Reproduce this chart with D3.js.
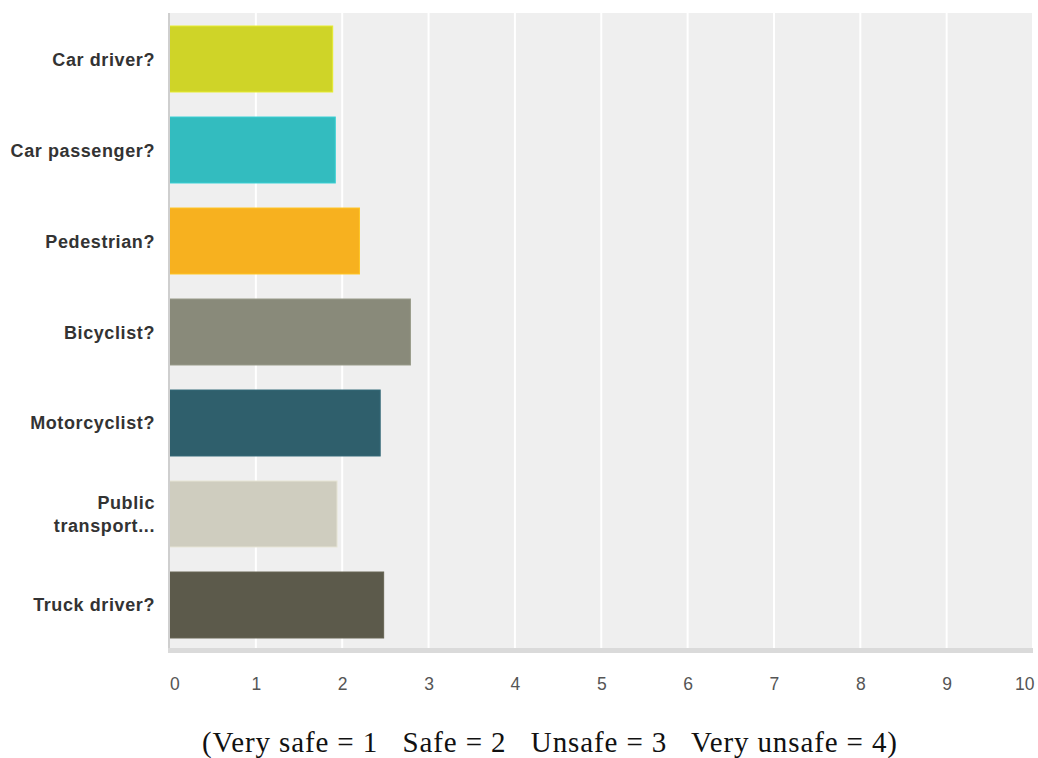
<!DOCTYPE html>
<html>
<head>
<meta charset="utf-8">
<script src="https://cdn.jsdelivr.net/npm/d3@7"></script>
<style>
  html, body { margin: 0; padding: 0; background: #fff; }
  svg { display: block; }
</style>
</head>
<body>
<svg id="chart" width="1038" height="758"></svg>
<script>
// Average safety rating per road-user type
const categories = ["Car driver?", "Car passenger?", "Pedestrian?", "Bicyclist?", "Motorcyclist?", "Public transport...", "Truck driver?"];
const labelLines = [["Car driver?"], ["Car passenger?"], ["Pedestrian?"], ["Bicyclist?"], ["Motorcyclist?"], ["Public", "transport..."], ["Truck driver?"]];
const values = [1.89, 1.92, 2.20, 2.79, 2.44, 1.94, 2.48];
const colors = ["#cfd428", "#33bcbf", "#f7b11f", "#898a7a", "#2f5f6c", "#cfcdbf", "#5c5a4b"];
const tickValues = [0, 1, 2, 3, 4, 5, 6, 7, 8, 9, 10];
const caption = "(Very safe = 1   Safe = 2   Unsafe = 3   Very unsafe = 4)";

const svg = d3.select("#chart");
const plot = { left: 169.5, right: 1033, top: 13, bottom: 648 };

const x = d3.scaleLinear().domain([0, 10]).range([plot.left, plot.right]);
const y = d3.scaleBand().domain(categories).range([plot.top, 651]).paddingInner(0.275).paddingOuter(0.143);

// plot background
svg.append("rect")
  .attr("x", plot.left).attr("y", plot.top)
  .attr("width", plot.right - plot.left).attr("height", plot.bottom - plot.top)
  .attr("fill", "#efefef");

// vertical grid lines
svg.append("g").selectAll("line")
  .data(tickValues.filter(d => d > 0))
  .join("line")
  .attr("x1", d => x(d)).attr("x2", d => x(d))
  .attr("y1", plot.top).attr("y2", plot.bottom)
  .attr("stroke", "#ffffff").attr("stroke-width", 2);

// bars
svg.append("g").selectAll("rect")
  .data(categories)
  .join("rect")
  .attr("x", x(0))
  .attr("y", d => y(d))
  .attr("width", (d, i) => x(values[i]) - x(0))
  .attr("height", y.bandwidth())
  .attr("fill", (d, i) => colors[i])
  .attr("stroke", (d, i) => d3.color(colors[i]).brighter(0.3))
  .attr("stroke-width", 1);

// left axis line
svg.append("line")
  .attr("x1", plot.left - 0.5).attr("x2", plot.left - 0.5)
  .attr("y1", plot.top).attr("y2", plot.bottom + 2)
  .attr("stroke", "#cfcfcf").attr("stroke-width", 2);

// bottom axis band
svg.append("rect")
  .attr("x", plot.left - 1.5).attr("y", plot.bottom)
  .attr("width", plot.right - plot.left + 1.5).attr("height", 5)
  .attr("fill", "#dadada");

// x axis tick labels
const xAxis = d3.axisBottom(x).tickValues(tickValues).tickSize(0).tickPadding(0);
const gx = svg.append("g")
  .attr("transform", `translate(0, ${plot.bottom + 42})`)
  .call(xAxis);
gx.select(".domain").remove();
gx.selectAll("text")
  .attr("font-family", "Liberation Sans, Arial, sans-serif")
  .attr("font-size", 17.5)
  .attr("fill", "#555")
  .attr("dy", 0)
  .attr("text-anchor", d => d === 0 ? "start" : (d === 10 ? "end" : "middle"))
  .attr("dx", d => d === 0 ? 0 : (d === 10 ? 1 : 0));

// category labels
const gy = svg.append("g");
categories.forEach((c, i) => {
  const lines = labelLines[i];
  const cy = y(c) + y.bandwidth() / 2;
  const lh = 23.5;
  const t = gy.append("text")
    .attr("text-anchor", "end")
    .attr("font-family", "Liberation Sans, Arial, sans-serif")
    .attr("font-weight", "bold")
    .attr("font-size", 18)
    .attr("letter-spacing", 0.6)
    .attr("fill", "#333");
  lines.forEach((ln, k) => {
    t.append("tspan")
      .attr("x", 155)
      .attr("y", cy + (k - (lines.length - 1) / 2) * lh + 6.5)
      .text(ln);
  });
});

// caption
svg.append("text")
  .attr("x", 202).attr("y", 752)
  .attr("font-family", "Liberation Serif, Times New Roman, serif")
  .attr("font-size", 29)
  .attr("fill", "#111")
  .attr("textLength", 695)
  .attr("lengthAdjust", "spacing")
  .style("white-space", "pre")
  .text(caption);
</script>
</body>
</html>
